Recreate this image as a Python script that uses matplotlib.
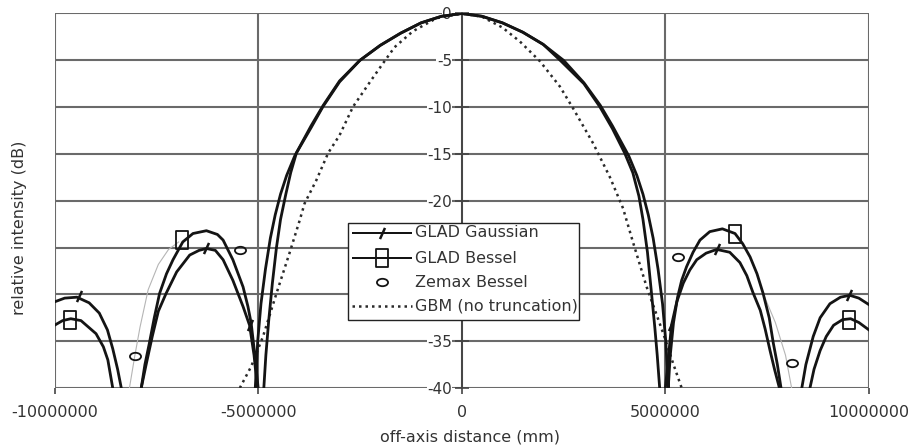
import numpy as np
import matplotlib
matplotlib.use("Agg")
import matplotlib.pyplot as plt
from matplotlib.path import Path
from matplotlib.transforms import Affine2D
from matplotlib.patches import Rectangle

nan = np.nan
SCALE = 1e6  # x values below are in millions of mm

# ---------------- data (x in 1e6 mm, y in dB) ----------------
gauss_x = [-10.0, -9.75, -9.45, -9.15, -8.9, -8.7, -8.57, -8.45, -8.36, nan,
           -7.87, -7.75, -7.6, -7.45, -7.26, -7.0, -6.68, -6.45, -6.27, -6.05, -5.86, -5.62, -5.37, -5.21, -5.1, -5.02, nan,
           -4.86, -4.81, -4.74, -4.65, -4.55, -4.45, -4.32, -4.2, -4.06, -3.7, -3.41, -3.0, -2.5, -2.0, -1.5, -1.0, -0.5, 0.0,
           0.5, 1.0, 1.5, 2.0, 2.41, 3.0, 3.39, 3.7, 4.0, 4.2, 4.35, 4.45, 4.56, 4.66, 4.74, 4.8, 4.86, nan,
           5.0, 5.08, 5.15, 5.28, 5.44, 5.6, 5.77, 6.0, 6.26, 6.58, 6.83, 7.0, 7.15, 7.33, 7.45, 7.57, 7.68, 7.8, nan,
           8.35, 8.45, 8.63, 8.8, 9.04, 9.3, 9.53, 9.75, 10.0]
gauss_y = [-30.8, -30.4, -30.3, -30.9, -32.0, -33.8, -35.8, -38.0, -40.0, nan,
           -40.0, -37.5, -34.5, -31.8, -29.9, -27.6, -25.8, -25.3, -25.1, -25.3, -26.3, -28.5, -31.3, -33.3, -36.5, -40.0, nan,
           -40.0, -36.5, -32.8, -28.8, -25.0, -22.0, -19.3, -17.0, -14.9, -12.2, -9.96, -7.3, -5.0, -3.4, -2.1, -1.0, -0.3, 0.0,
           -0.3, -1.0, -2.0, -3.3, -4.97, -7.5, -9.96, -12.3, -14.9, -17.0, -19.5, -22.0, -25.5, -29.9, -33.5, -36.5, -40.0, nan,
           -40.0, -36.5, -33.3, -30.8, -28.8, -27.4, -26.3, -25.6, -25.2, -25.5, -26.6, -28.0, -29.8, -31.7, -33.7, -36.0, -38.0, -40.0, nan,
           -40.0, -37.5, -34.5, -32.5, -31.0, -30.3, -30.1, -30.4, -31.1]
gauss_mark_x = [-9.4, -6.27, -5.21, 5.15, 6.26, 9.5]
gauss_mark_y = [-30.2, -25.1, -33.3, -33.3, -25.2, -30.1]

bessel_x = [-10.0, -9.8, -9.6, -9.35, -8.98, -8.8, -8.69, -8.57, nan,
            -7.87, -7.78, -7.67, -7.55, -7.42, -7.25, -7.09, -6.85, -6.6, -6.27, -6.0, -5.86, -5.62, -5.37, -5.25, -5.17, -5.08, -5.0, nan,
            -5.07, -5.01, -4.93, -4.82, -4.7, -4.58, -4.45, -4.3, -4.1, -3.7, -3.4, -3.0, -2.5, -2.0, -1.5, -1.0, -0.5, 0.0,
            0.5, 1.0, 1.5, 2.0, 2.5, 3.0, 3.4, 3.7, 4.1, 4.3, 4.45, 4.58, 4.7, 4.82, 4.93, 5.01, 5.07, nan,
            5.07, 5.12, 5.2, 5.3, 5.4, 5.52, 5.68, 5.85, 6.09, 6.4, 6.71, 6.9, 7.08, 7.25, 7.4, 7.55, 7.65, 7.75, 7.84, nan,
            8.55, 8.65, 8.8, 8.95, 9.13, 9.35, 9.55, 9.75, 10.0]
bessel_y = [-33.3, -32.8, -32.6, -32.8, -34.2, -35.6, -37.0, -40.0, nan,
            -40.0, -37.5, -35.2, -32.5, -29.9, -27.8, -26.3, -24.4, -23.5, -23.2, -23.6, -24.2, -26.3, -29.2, -31.3, -33.1, -36.5, -40.0, nan,
            -40.0, -35.0, -31.0, -27.3, -24.0, -21.5, -19.3, -17.3, -15.2, -12.0, -9.8, -7.2, -5.0, -3.4, -2.1, -1.0, -0.3, 0.0,
            -0.3, -1.0, -2.0, -3.3, -5.0, -7.4, -9.8, -12.0, -15.2, -17.3, -19.3, -21.5, -24.0, -27.3, -31.0, -35.0, -40.0, nan,
            -40.0, -36.5, -33.0, -30.3, -28.5, -27.05, -25.5, -24.2, -23.3, -23.0, -23.5, -24.6, -26.0, -27.8, -29.9, -32.5, -35.2, -37.5, -40.0, nan,
            -40.0, -38.0, -36.0, -34.5, -33.3, -32.7, -32.6, -33.0, -33.8]
bessel_mark_x = [-9.63, -6.88, 6.71, 9.51]
bessel_mark_y = [-32.7, -24.2, -23.5, -32.7]

zemax_x = [-8.03, -5.45, 5.32, 8.10]
zemax_y = [-36.6, -25.3, -26.0, -37.3]
zemax_line_x = [-8.16, -8.03, -7.9, -7.7, -7.45, -7.2, -6.95, nan, 7.4, 7.7, 7.95, 8.1]
zemax_line_y = [-40.0, -36.6, -33.5, -29.5, -26.8, -25.2, -24.4, nan, -29.9, -33.0, -36.5, -40.0]

gbm_x = [-5.45, -5.17, -4.88, -4.55, -4.23, -3.98, -3.86, -3.57, -3.28, -3.0, -2.67, -2.22, -1.93, -1.65, -1.2, -0.62, 0.0,
         0.5, 1.0, 1.43, 1.92, 2.41, 2.73, 3.23, 3.64, 3.96, 4.21, 4.54, 4.95, 5.2, 5.4]
gbm_y = [-40.0, -37.7, -34.5, -29.9, -25.6, -22.1, -20.3, -17.8, -14.9, -13.0, -9.96, -7.1, -5.3, -3.6, -1.9, -0.5, 0.0,
         -0.35, -1.5, -3.0, -5.1, -7.8, -10.1, -13.9, -17.5, -20.8, -24.5, -29.2, -34.2, -37.5, -40.0]

x_ticks = [-10000000, -5000000, 0, 5000000, 10000000]
x_tick_labels = ["-10000000", "-5000000", "0", "5000000", "10000000"]
y_ticks = [0, -5, -10, -15, -20, -25, -30, -35, -40]
# -25 and -30 sit behind the legend in the reference
y_tick_labels = ["0", "-5", "-10", "-15", "-20", "", "", "-35", "-40"]

labels = ["GLAD Gaussian", "GLAD Bessel", "Zemax Bessel", "GBM (no truncation)"]

# ---------------- drawing ----------------
plt.rcParams['font.family'] = ['DejaVu Sans']
TXT = '#333333'
LINE = '#141414'
GBM_C = '#2a2a2a'
DOTS = (0, (1.0, 1.6))

W, H = 911, 446
fig = plt.figure(figsize=(W / 100, H / 100), dpi=100)
L, R, T, B = 54.5, 869, 13.5, 388
ax = fig.add_axes([L / W, 1 - B / H, (R - L) / W, (B - T) / H])

def sx(v):
    return np.array(v, dtype=float) * SCALE

slash = Path([(-0.45, -1.0), (0.45, 1.0)], [Path.MOVETO, Path.LINETO])
rect = Path([(-0.62, -1), (0.62, -1), (0.62, 1), (-0.62, 1), (-0.62, -1)],
            [Path.MOVETO, Path.LINETO, Path.LINETO, Path.LINETO, Path.CLOSEPOLY])
ellipse = Path.unit_circle().transformed(Affine2D().scale(1.35, 0.9))

gbm_style = dict(color=GBM_C, lw=1.8, linestyle=DOTS)
gauss_mk = dict(ls='none', marker=slash, ms=8, mec=LINE, mew=1.8)
bessel_mk = dict(ls='none', marker=rect, ms=13, mec=LINE, mfc='none', mew=1.3)
zemax_mk = dict(ls='none', marker=ellipse, ms=8, mec=LINE, mfc='none', mew=1.3)

ax.plot(sx(zemax_line_x), zemax_line_y, color='#b5b5b5', lw=0.8, zorder=3)
ax.plot(sx(gbm_x), gbm_y, zorder=3, **gbm_style)
ax.plot(sx(gauss_x), gauss_y, color=LINE, lw=2.0, zorder=4)
ax.plot(sx(bessel_x), bessel_y, color=LINE, lw=2.0, zorder=4)
ax.plot(sx(gauss_mark_x), gauss_mark_y, zorder=5, **gauss_mk)
ax.plot(sx(bessel_mark_x), bessel_mark_y, zorder=5, **bessel_mk)
ax.plot(sx(zemax_x), zemax_y, zorder=5, **zemax_mk)

ax.set_xlim(-10000000, 10000000)
ax.set_ylim(-40, 0)
ax.set_xticks(x_ticks)
ax.set_xticklabels(x_tick_labels)
ax.set_yticks(y_ticks)
ax.set_yticklabels(y_tick_labels)
ax.grid(True, color='#6a6a6a', lw=1.5, zorder=1)
ax.set_axisbelow(True)
for s in ['top', 'right', 'bottom']:
    ax.spines[s].set_visible(False)
ax.spines['left'].set_position(('data', 0))
ax.spines['left'].set_color('#444444')
ax.spines['left'].set_linewidth(1.3)
ax.tick_params(axis='y', direction='inout', length=10, width=1.2, color='#444444',
               pad=2, labelsize=11, labelcolor=TXT)
ax.tick_params(axis='x', direction='out', length=4, width=1.2, color='#444444',
               pad=8, labelsize=11.5, labelcolor=TXT)
for t in ax.get_yticklabels():
    if t.get_text():
        t.set_bbox(dict(facecolor='white', edgecolor='none', pad=0.3))

fig.text(470 / W, 1 - 437 / H, "off-axis distance (mm)", ha='center', va='center',
         fontsize=11.5, color=TXT)
fig.text(20 / W, 1 - 228 / H, "relative intensity (dB)", ha='center', va='center',
         rotation=90, fontsize=11.5, color=TXT)

# ---------------- legend box (drawn in axes-fraction coordinates) ----------------
LX0, LX1, LY0, LY1 = 0.3603, 0.6440, 0.1816, 0.4406
ax.add_patch(Rectangle((LX0, LY0), LX1 - LX0, LY1 - LY0, transform=ax.transAxes,
                       facecolor='white', edgecolor='#222222', lw=1.0, zorder=10, clip_on=False))
row_y = [0.4139, 0.3471, 0.2830, 0.2190]
h0, h1, hm, tx = 0.3652, 0.4389, 0.4021, 0.4426
bar_h = 2.8 / (B - T)  # thickness of the solid handle strokes
entries = [("solid", gauss_mk), ("solid", bessel_mk), (None, zemax_mk), ("dots", None)]
for (kind, mstyle), yy, lab in zip(entries, row_y, labels):
    if kind == "solid":
        ax.add_patch(Rectangle((h0, yy - bar_h / 2), h1 - h0, bar_h, transform=ax.transAxes,
                               facecolor=LINE, edgecolor='none', zorder=11, clip_on=False))
    elif kind == "dots":
        ax.plot([h0, h1], [yy, yy], transform=ax.transAxes, clip_on=False, zorder=11, **gbm_style)
    if mstyle is not None:
        ax.plot([hm], [yy], transform=ax.transAxes, clip_on=False, zorder=12, **mstyle)
    ax.text(tx, yy, lab, transform=ax.transAxes, ha='left', va='center', fontsize=11.5,
            color=TXT, zorder=12)

fig.savefig("out.png", dpi=100, facecolor='white')
